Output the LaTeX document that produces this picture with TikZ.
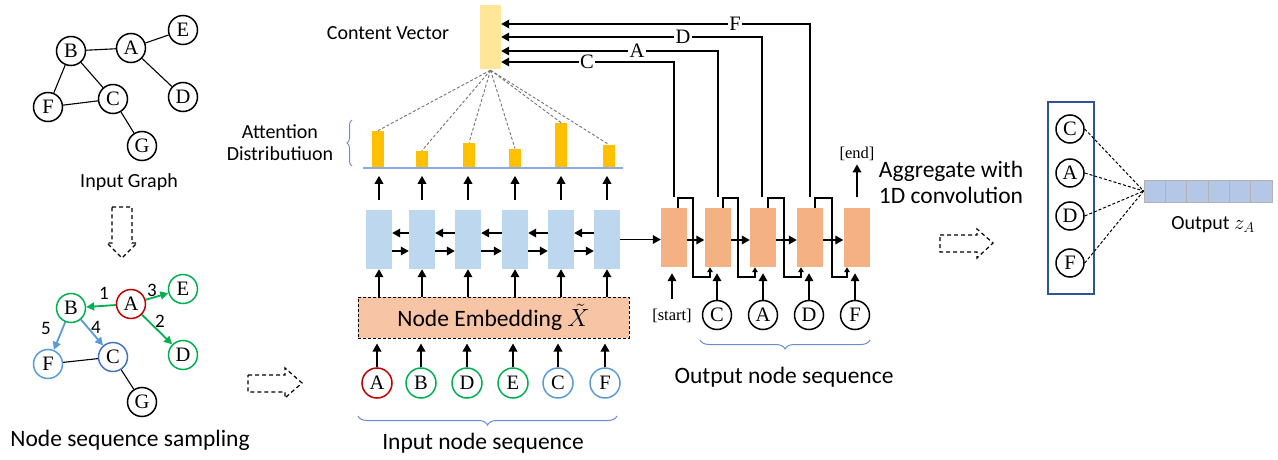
\documentclass[tikz,border=0pt]{standalone}
\usepackage{fontspec}
\setmainfont{Carlito}
\newfontfamily\tms{Liberation Serif}
\usetikzlibrary{arrows.meta,decorations.pathreplacing,calc}
\definecolor{cgreen}{HTML}{00B050}
\definecolor{cred}{HTML}{C00000}
\definecolor{clblue}{HTML}{5B9BD5}
\definecolor{cdblue}{HTML}{4472C4}
\definecolor{cenc}{HTML}{BDD7EE}
\definecolor{cdec}{HTML}{F4B183}
\definecolor{cemb}{HTML}{F7C4A5}
\definecolor{cbar}{HTML}{FFC000}
\definecolor{ccv}{HTML}{FFE699}
\definecolor{crbox}{HTML}{2F5597}
\definecolor{ccell}{HTML}{B4C7E7}
\definecolor{cbase}{HTML}{8FAADC}
\newcommand\fBig{\fontsize{23.5}{26}\selectfont}
\newcommand\fMid{\fontsize{20}{22}\selectfont}
\newcommand\fNum{\fontsize{19}{20}\selectfont}
\newcommand\fLet{\tms\fontsize{20.5}{20.5}\selectfont}
\newcommand\fTag{\tms\fontsize{16.5}{17}\selectfont}
\begin{document}
\begin{tikzpicture}[x=1pt,y=-1pt,
  gn/.style={circle,draw,line width=1.5pt,minimum size=29pt,inner sep=0pt,font=\fLet},
  edge/.style={line width=1.1pt},
  enc/.style={fill=cenc,minimum width=26pt,minimum height=59pt,inner sep=0pt},
  dec/.style={fill=cdec,minimum width=26pt,minimum height=59pt,inner sep=0pt},
  ar/.style={-{Triangle[length=8pt,width=8.5pt]},line width=1.8pt},
  sar/.style={-{Triangle[length=5pt,width=5.5pt]},line width=1.5pt},
  garrow/.style={-{Triangle[length=8pt,width=8pt]},line width=1.8pt},
  blockar/.style={draw,dash pattern=on 4pt off 3pt,line width=1.2pt},
  bar/.style={fill=cbar,minimum width=12pt,inner sep=0pt,anchor=south},
  att/.style={draw=black!55,dash pattern=on 3pt off 2pt,line width=0.9pt},
  linelbl/.style={fill=white,inner sep=1.5pt,font=\fLet},
  brc/.style={draw=cdblue!80,line width=1pt,decorate,decoration={brace,amplitude=9pt}},
  cell/.style={draw=black!30,fill=ccell,minimum width=21.33pt,minimum height=22pt,inner sep=0pt,line width=0.8pt},
  rdash/.style={dash pattern=on 3pt off 2pt,line width=1pt}
]
\useasboundingbox (0,0) rectangle (1278,460);

% ---------- input graph ----------
\node[gn] (tB) at (71,51) {B};
\node[gn] (tA) at (131,48) {A};
\node[gn] (tE) at (183,30) {E};
\node[gn] (tD) at (183,97) {D};
\node[gn] (tF) at (48,107) {F};
\node[gn] (tC) at (113,99) {C};
\node[gn] (tG) at (142,146) {G};
\draw[edge] (tB)--(tA) (tA)--(tE) (tA)--(tD) (tB)--(tF) (tB)--(tC) (tF)--(tC) (tC)--(tG);
\node[font=\fMid] (tgl) at (129,182) {Input Graph};

% dashed down arrow
\draw[blockar] (112,207) -- (132,207) -- (132,243) -- (137,243) -- (122,258) -- (107,243) -- (112,243) -- cycle;

% ---------- sampled graph ----------
\node[gn,draw=cgreen] (sB) at (71,308) {B};
\node[gn,draw=cred] (sA) at (131,304) {A};
\node[gn,draw=cgreen] (sE) at (183,289) {E};
\node[gn,draw=cgreen] (sD) at (183,355) {D};
\node[gn,draw=clblue] (sF) at (48,364) {F};
\node[gn,draw=cdblue] (sC) at (113,357) {C};
\node[gn] (sG) at (142,402) {G};
\draw[edge] (sF)--(sC) (sC)--(sG);
\draw[garrow,draw=cgreen,fill=cgreen] (sA) -- (sB);
\draw[garrow,draw=cgreen,fill=cgreen] (sA) -- (sD);
\draw[garrow,draw=cgreen,fill=cgreen] (sA) -- (sE);
\draw[garrow,draw=clblue,fill=clblue] (sB) -- (sC);
\draw[garrow,draw=clblue,fill=clblue] (sB) -- (sF);
\node[font=\fNum] (n1) at (104,293) {1};
\node[font=\fNum] (n2) at (160,321) {2};
\node[font=\fNum] (n3) at (152,290) {3};
\node[font=\fNum] (n4) at (96,327) {4};
\node[font=\fNum] (n5) at (46,328) {5};
\node[font=\fBig] (ssl) at (130,440) {Node sequence sampling};

% dashed right arrow 1
\draw[blockar] (248,375) -- (285,375) -- (285,368) -- (302,383) -- (285,398) -- (285,392) -- (248,392) -- cycle;

% ---------- encoder ----------
\foreach \i/\x in {1/379,2/422,3/468,4/515,5/561,6/607}{
  \node[enc] (e\i) at (\x,239.5) {};
}
\foreach \i/\j in {1/2,2/3,3/4,4/5,5/6}{
  \draw[ar] ($(e\j.west)+(0,-6.5)$) -- ($(e\i.east)+(0,-6.5)$);
  \draw[ar] ($(e\i.east)+(0,11.5)$) -- ($(e\j.west)+(0,11.5)$);
}
\node[draw,dash pattern=on 3pt off 2pt,line width=1pt,fill=cemb,minimum width=271pt,minimum height=41pt,inner sep=0pt,font=\fBig] (emb) at (493.5,317.5) {Node Embedding $\tilde{X}$};
\foreach \i in {1,...,6}{
  \draw[ar] (emb.north -| e\i) -- (e\i.south);
  \draw[ar] ($(e\i.north)+(0,-10)$) -- ++(0,-24);
}
% input circles
\node[gn,draw=cred,minimum size=30pt] (iA) at (377,383) {A};
\node[gn,draw=cgreen,minimum size=30pt] (iB) at (421,383) {B};
\node[gn,draw=cgreen,minimum size=30pt] (iD) at (467,383) {D};
\node[gn,draw=cgreen,minimum size=30pt] (iE) at (513,383) {E};
\node[gn,draw=clblue,minimum size=30pt] (iC) at (558,383) {C};
\node[gn,draw=clblue,minimum size=30pt] (iF) at (605,383) {F};
\foreach \n in {iA,iB,iD,iE,iC,iF}{
  \draw[ar] (\n.north) -- ($(\n |- emb.south)+(0,5)$);
}
\draw[brc] (617,416) -- (358,416);
\node[font=\fBig] (insl) at (483,443) {Input node sequence};

% ---------- attention ----------
\draw[cbase,line width=1.6pt] (363,168) -- (623,168);
\node[bar,minimum height=36pt] (b1) at (378,167) {};
\node[bar,minimum height=16pt] (b2) at (422,167) {};
\node[bar,minimum height=24pt] (b3) at (469,167) {};
\node[bar,minimum height=18pt] (b4) at (515,167) {};
\node[bar,minimum height=44pt] (b5) at (561,167) {};
\node[bar,minimum height=22pt] (b6) at (609,167) {};
\draw[draw=cdblue!80,line width=1pt,decorate,decoration={brace,amplitude=5pt}] (352,166) -- (352,120);
\node[font=\fMid,align=center] (attl) at (280,143) {Attention\\Distributiuon};

\node[fill=ccv,minimum width=21pt,minimum height=64pt,inner sep=0pt] (cv) at (490.5,37) {};
\node[font=\fMid] (cvl) at (388,33) {Content Vector};
\foreach \i in {1,...,6}{
  \draw[att] ($(cv.south)+(0,1)$) -- (b\i.north);
}

% ---------- decoder ----------
\node[dec] (d1) at (674,237.5) {};
\node[dec] (d2) at (717.5,237.5) {};
\node[dec] (d3) at (763,237.5) {};
\node[dec] (d4) at (810,237.5) {};
\node[dec] (d5) at (856.5,237.5) {};
\draw[ar] (e6.east) -- (d1.west |- e6.east);
\foreach \i/\j in {1/2,2/3,3/4,4/5}{
  \draw[ar] ($(d\i.east)+(0,2.5)$) -- ($(d\j.west)+(0,2.5)$);
}
% feedback loops
\draw[sar] ($(d1.north)+(4,0)$) -- ++(0,-10) -| (693,277) -| ($(d2.south)+(-7.5,0)$);
\draw[sar] ($(d2.north)+(5.5,0)$) -- ++(0,-10) -| (738,277) -| ($(d3.south)+(-8,0)$);
\draw[sar] ($(d3.north)+(5,0)$) -- ++(0,-10) -| (784,277) -| ($(d4.south)+(-9,0)$);
\draw[sar] ($(d4.north)+(5,0)$) -- ++(0,-10) -| (832,277) -| ($(d5.south)+(-9.5,0)$);
% lines to content vector
\draw[ar] (674,197) |- (cv.east |- 0,62);
\draw[ar] (718,197) |- (cv.east |- 0,51);
\draw[ar] (762,197) |- (cv.east |- 0,37);
\draw[ar] (810,197) |- (cv.east |- 0,24);
\node[linelbl] (lC) at (587,62) {C};
\node[linelbl] (lA) at (637,51) {A};
\node[linelbl] (lD) at (683,37) {D};
\node[linelbl] (lF) at (735,24) {F};
% end
\coordinate (endtail) at (857,197);
\node[font=\fTag] (endl) at (857,154) {[end]};
\draw[ar] (endtail) -- (endl.south);
% start and output circles
\node[font=\fTag] (startl) at (672,316) {[start]};
\draw[ar] ($(startl.north)+(0,-7)$) -- ($(d1.south)+(-2,6)$);
\node[gn] (oC) at (717,315) {C};
\node[gn] (oA) at (763,315) {A};
\node[gn] (oD) at (809,315) {D};
\node[gn] (oF) at (855,315) {F};
\foreach \n in {oC,oA,oD,oF}{
  \draw[ar] (\n.north) -- ($(\n |- d1.south)+(0,6)$);
}
\draw[brc] (870,340) -- (700,340);
\node[font=\fBig] (outsl) at (784,377) {Output node sequence};

% ---------- aggregation ----------
\node[font=\fBig,align=center,text depth=0pt] (aggl) at (951,182) {\fontsize{23.5}{28}\selectfont Aggregate with\\1D convolution};
\draw[blockar] (940,235) -- (977,235) -- (977,229) -- (993,243) -- (977,258) -- (977,252) -- (940,252) -- cycle;
\node[draw=crbox,line width=1.5pt,minimum width=46pt,minimum height=192pt,inner sep=0pt] (rb) at (1071,198) {};
\node[gn,minimum size=28pt] (rC) at (1070,129) {C};
\node[gn,minimum size=28pt] (rA) at (1070,173) {A};
\node[gn,minimum size=28pt] (rD) at (1070,216) {D};
\node[gn,minimum size=28pt] (rF) at (1070,263) {F};
\foreach \i in {1,...,6}{
  \node[cell] (c\i) at ({1144+21.33*(\i-0.5)},191) {};
}
\foreach \n in {rC,rA,rD,rF}{
  \draw[rdash] (\n.east) -- (c1.west);
}
\node[font=\fMid] (outz) at (1213,225) {Output $z_A$};
\end{tikzpicture}
\end{document}
